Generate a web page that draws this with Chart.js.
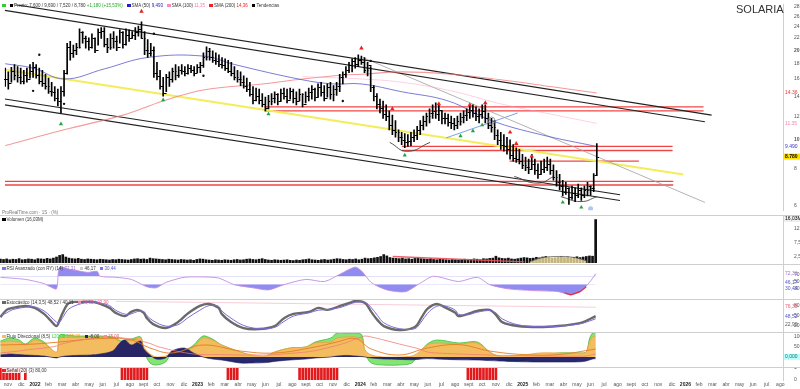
<!DOCTYPE html>
<html>
<head>
<meta charset="utf-8">
<title>SOLARIA</title>
<script src="https://cdn.jsdelivr.net/npm/chart.js@4.4.0/dist/chart.umd.min.js"></script>
<style>
  body { margin: 0; background: #fff; font-family: Arial, "Liberation Sans", sans-serif; }
  #wrap { position: relative; width: 800px; height: 389px; overflow: hidden; }
  canvas { position: absolute; left: 0; }
  .sep { position: absolute; left: 0; width: 800px; height: 0; border-top: 1px solid #cfcfcf; z-index: 1; }
  .txt { position: absolute; left: 2px; font-size: 4.5px; line-height: 5px; color: #333; white-space: nowrap; z-index: 2; }
  .sq { display: inline-block; width: 3.5px; height: 3.5px; margin: 0 1px 0 3px; }
  #title { position: absolute; left: 736px; top: 3px; font-size: 11px; color: #333; z-index: 2; }
</style>
</head>
<body>
<div id="wrap">
  <canvas id="price" width="800" height="215" style="top:0"></canvas>
  <canvas id="volume" width="800" height="48" style="top:216px"></canvas>
  <canvas id="rsi" width="800" height="35" style="top:264px"></canvas>
  <canvas id="stoch" width="800" height="33" style="top:299px"></canvas>
  <canvas id="flow" width="800" height="35" style="top:332px"></canvas>
  <canvas id="signal" width="800" height="22" style="top:367px"></canvas>

  <div class="sep" style="top:215px"></div>
  <div class="sep" style="top:264px"></div>
  <div class="sep" style="top:299px"></div>
  <div class="sep" style="top:332px"></div>
  <div class="sep" style="top:367px"></div>

  <div id="title">SOLARIA</div>
  <div class="txt" style="top:3px"><span class="sq" style="background:#3c3;margin-left:0"></span><span class="sq" style="background:#000"></span>Precio: 7,600 / 9,690 / 7,520 / 8,780 <span style="color:#2a2">+1,180 (+15,53%)</span> <span class="sq" style="background:#22b"></span>SMA (50) <span style="color:#22b">9,493</span> <span class="sq" style="background:#f8b"></span>SMA (100) <span style="color:#f7a">11,35</span> <span class="sq" style="background:#e22"></span>SMA (200) <span style="color:#e22">14,36</span> <span class="sq" style="background:#000"></span>Tendencias</div>
  <div class="txt" style="top:210px;color:#777">ProRealTime.com · 1S · (%)</div>
  <div class="txt" style="top:217px"><span class="sq" style="background:#000;margin-left:0"></span>Volumen (16,03M)</div>
  <div class="txt" style="top:266px"><span class="sq" style="background:#77e;margin-left:0"></span>RSI Avanzado (con RY) (14) <span style="color:#a070d0">72,31</span> <span class="sq" style="background:#ccc"></span>46,17 <span class="sq" style="background:#77e"></span><span style="color:#55c">30,44</span></div>
  <div class="txt" style="top:300px"><span class="sq" style="background:#666;margin-left:0"></span>Estocástico (14,3,5) 48,52 / 40,11 <span class="sq" style="background:#f8a"></span><span style="color:#e57">76,35 / 22,90</span></div>
  <div class="txt" style="top:334px"><span class="sq" style="background:#fb5;margin-left:0"></span>Flujo Direccional (8,5) <span style="color:#4c4">120,00</span> <span style="color:#e90">105,00</span> <span class="sq" style="background:#226"></span>-8,00 <span class="sq" style="background:#f88"></span><span style="color:#e55">15,00</span></div>
  <div class="txt" style="top:368px;background:rgba(255,255,255,0.85)"><span class="sq" style="background:#e22;margin-left:0"></span>Señal (20) (3) 80,00</div>
</div>

<script>
// ---- time axis ----
const monthLabels = ['nov','dic',
  '2022','feb','mar','abr','may','jun','jul','ago','sept','oct','nov','dic',
  '2023','feb','mar','abr','may','jun','jul','ago','sept','oct','nov','dic',
  '2024','feb','mar','abr','may','jun','jul','ago','sept','oct','nov','dic',
  '2025','feb','mar','abr','may','jun','jul','ago','sept','oct','nov','dic',
  '2026','feb','mar','abr','may','jun','jul','ago'];
const firstMonth = -2;         // month of first label (0 = jan 2022)
const firstBarMonth = -2.55;   // month of the first weekly bar
const X_MIN = -2.58, X_MAX = 55.2;

// ---- weekly prices ----
const highs = [17.4,16.9,17.5,17.9,17.6,17.4,17.1,17.4,17.9,18.2,
  17.9,17.4,17.1,16.6,16.1,15.6,15.1,14.8,15.1,17.1,
  21.1,21.4,20.8,21.1,23.6,23.1,22.3,22.0,22.7,22.0,
  23.6,23.8,23.8,21.9,22.7,23.1,22.3,23.4,23.1,23.6,
  23.4,23.1,23.8,24.1,24.9,23.1,21.7,21.1,20.5,18.2,
  17.1,16.2,16.6,16.9,17.4,17.9,17.6,17.9,17.6,17.9,
  17.8,17.6,17.9,18.2,19.6,20.5,20.3,19.9,19.6,19.3,
  18.9,18.7,18.5,18.2,17.6,17.1,16.9,16.4,16.1,15.6,
  15.1,14.9,14.8,14.3,13.9,14.1,14.3,14.5,14.3,14.8,
  14.9,14.8,14.9,14.8,14.5,14.8,14.3,14.5,14.9,15.2,
  14.9,15.4,15.6,15.2,15.4,15.6,15.2,15.6,16.6,16.9,
  17.6,18.2,18.7,18.9,19.3,19.1,18.9,18.2,17.6,15.2,
  14.3,13.7,13.5,13.1,12.5,12.1,11.6,10.8,10.6,10.5,
  10.4,10.6,10.8,11.1,11.6,12.0,12.3,12.7,13.1,13.3,
  13.1,12.5,12.3,12.2,12.0,11.8,12.0,12.3,12.5,12.7,
  13.0,13.1,12.9,12.7,13.1,13.1,12.3,11.8,11.6,10.8,
  10.6,10.4,10.2,10.0,9.63,9.4,9.28,8.94,8.74,8.61,
  8.94,8.61,8.3,8.48,8.61,8.74,8.61,8.24,7.88,7.65,
  7.31,7.2,6.89,6.99,6.89,7.1,6.89,6.99,7.2,7.0,
  7.7,9.7];
const lows = [15.1,14.8,15.6,15.9,15.6,15.4,15.4,15.6,16.1,16.2,
  16.1,15.4,15.1,14.8,14.3,14.0,13.5,13.0,12.3,14.0,
  16.6,18.5,18.9,19.3,20.3,21.1,20.3,20.0,20.3,19.6,
  20.8,21.9,20.5,19.6,20.1,20.3,19.9,21.1,20.3,20.8,
  21.4,21.9,21.7,22.3,21.9,19.3,18.9,19.1,16.2,15.9,
  14.8,14.0,14.5,15.1,15.6,15.9,16.2,16.6,16.4,16.6,
  16.8,16.4,16.8,16.8,17.5,18.5,18.5,18.2,17.9,17.6,
  17.4,17.1,16.8,16.4,15.9,15.6,15.2,14.9,14.5,14.0,
  13.2,13.5,13.2,12.9,12.5,12.7,13.1,13.3,13.1,13.5,
  13.7,13.3,13.7,13.3,13.1,13.5,12.9,13.3,13.5,13.7,
  13.5,13.9,14.0,13.5,13.9,13.7,13.5,14.1,14.5,15.4,
  16.2,16.8,16.9,17.4,17.6,17.9,16.8,16.4,14.5,13.5,
  12.7,12.3,11.8,11.6,10.8,10.4,10.2,9.85,9.63,9.4,
  9.5,9.55,9.85,10.0,10.4,10.8,11.1,11.4,11.8,11.8,
  11.6,11.3,11.3,11.1,10.9,10.8,10.9,11.2,11.4,11.6,
  11.8,11.9,11.6,11.4,11.8,11.4,10.9,10.6,10.0,9.63,
  9.28,9.15,8.94,8.61,8.48,8.4,8.3,8.0,7.88,7.7,
  8.0,7.65,7.42,7.65,7.76,7.88,7.65,7.31,6.99,6.78,
  6.48,6.55,6.07,6.3,6.2,6.39,6.25,6.39,6.48,6.5,
  6.7,7.6];
const closes = [16.0,15.5,17.0,16.5,16.2,15.8,16.5,16.0,17.0,17.5,
  16.5,15.8,15.5,15.2,14.6,14.5,13.8,13.5,14.6,16.8,
  20.5,19.5,20.0,20.5,23.0,22.0,21.5,20.5,22.0,20.0,
  23.0,23.2,21.0,20.5,22.0,21.5,20.5,23.0,21.0,22.5,
  22.0,22.5,23.0,23.5,22.0,20.0,19.5,20.0,16.8,16.4,
  15.2,14.4,16.2,16.0,17.0,16.5,17.2,17.0,16.8,17.4,
  17.2,16.8,17.5,17.8,19.0,19.8,19.0,18.6,18.4,18.0,
  17.8,17.4,17.0,16.8,16.2,16.0,15.6,15.2,14.8,14.3,
  13.6,14.0,13.6,13.2,12.8,13.5,13.8,14.2,13.5,14.4,
  14.0,13.6,14.6,13.8,13.5,14.2,13.2,14.0,14.5,14.8,
  13.9,15.0,14.5,13.8,15.0,14.2,14.8,15.2,16.2,16.6,
  17.2,17.8,18.4,18.0,18.6,18.2,17.2,17.8,15.0,14.0,
  13.2,12.8,12.2,12.0,11.2,10.8,10.6,10.2,10.0,9.8,
  9.9,10.2,10.4,10.8,11.2,11.6,12.0,12.3,12.5,12.2,
  12.6,11.8,11.8,11.5,11.4,11.2,11.6,11.9,12.1,12.4,
  12.6,12.3,12.0,12.2,12.5,11.8,11.2,11.0,10.4,10.0,
  9.6,9.5,9.3,8.9,8.7,8.6,8.5,8.2,8.1,7.95,
  8.3,7.9,7.7,8.0,8.1,8.3,7.9,7.5,7.2,7.0,
  6.7,6.9,6.4,6.6,6.5,6.8,6.5,6.8,7.0,6.9,
  7.6,8.78];
const priceTicks = [6, 8, 10, 12, 14, 16, 18, 20, 22, 24, 26, 28];

// moving averages (week index, value)
const ma50Weeks = [0,9,19,32,46,64,74,96,106,115,128,143,157,173,191];
const ma50 = [18.0,17.4,16.0,17.3,18.9,19.1,17.9,15.9,15.4,15.4,14.5,13.5,11.6,10.4,9.49];
const ma100Weeks = [96,115,128,144,160,176,191];
const ma100 = [16.3,16.0,15.6,14.6,13.2,12.2,11.35];
const ma200Weeks = [0,19,38,51,64,83,96,109,115,128,144,160,176,191];
const ma200 = [9.56,10.8,12.1,13.5,14.7,15.4,16.0,16.5,16.6,16.9,16.6,15.9,15.1,14.36];

// drawn trend lines (month, price)
const channelLines = [
  [[-2.58, 28.8], [49.9, 12.1]],
  [[-2.58, 27.2], [49.4, 11.5]],
  [[-2.58, 13.7], [43.1, 6.54]],
  [[-2.58, 13.1], [43.1, 6.25]]
];
const yellowLine = [[-2.58, 17.2], [47.8, 7.64]];
const greyLine = [[24.0, 18.9], [49.4, 6.16]];
const blueLine = [[30.2, 10.15], [35.5, 12.3]];
const supportLevels = [7.25, 7.05, 12.9, 12.5, 9.5, 9.2, 8.48];
const supportFrom = [-2.58, -2.58, 16.7, 16.7, 26.9, 26.9, 34.9];
const supportTo = [47.05, 47.05, 49.3, 49.3, 47.0, 47.0, 44.5];
const arcs = [
  [[26.0, 9.8], [27.3, 9.15], [29.0, 9.8]],
  [[35.25, 7.53], [37.0, 7.15], [38.2, 7.53]],
  [[38.7, 6.44], [40.2, 6.2], [41.4, 6.44]]
];

// signal markers (week index, price)
const sellWeeks = [44,115,125,140,150,155,163,165,170];
const sellPrices = [27.0,20.3,12.7,13.2,13.1,13.3,10.6,9.7,8.8];
const buyWeeks = [18,51,85,129,147,151,154,180,186];
const buyPrices = [11.3,13.6,12.2,8.87,10.3,10.7,11.2,6.16,5.93];
const dotWeeks = [11,9,19,48,64,109,118];
const dotPrices = [19.3,14.6,13.2,22.7,16.4,13.5,18.4];

// ---- volume (millions) ----
const volumes = [1.4,1.3,1.5,1.2,1.4,1.3,1.6,1.2,1.3,1.5,
  1.4,1.2,1.6,1.5,1.4,1.7,1.5,1.8,2.2,2.8,
  3.1,2.2,1.8,1.6,1.5,1.7,1.4,1.3,1.5,1.4,
  1.3,1.2,1.4,1.3,1.2,1.1,1.3,1.2,1.4,1.3,
  1.2,1.1,1.3,1.5,1.6,1.4,1.5,1.3,1.8,1.6,
  1.5,1.4,1.3,1.2,1.4,1.3,1.2,1.1,1.3,1.2,
  1.1,1.2,1.0,1.3,1.5,1.4,1.2,1.1,1.0,1.2,
  1.1,1.0,1.2,1.1,1.0,1.2,1.3,1.1,1.2,1.4,
  1.5,1.3,1.2,1.4,1.6,1.3,1.1,1.0,1.2,1.1,
  1.0,1.1,1.2,1.0,0.9,1.1,1.0,1.2,1.3,1.5,
  1.2,1.1,1.0,1.2,1.3,1.1,1.2,1.4,1.6,1.5,
  1.3,1.2,1.4,1.3,1.5,1.2,1.4,1.8,1.6,1.7,
  1.9,2.1,2.4,3.1,2.6,2.0,1.8,1.7,1.6,1.8,
  1.5,1.6,1.4,1.7,1.9,1.6,1.5,1.4,1.6,1.3,
  1.2,1.4,1.3,1.2,1.1,1.3,1.2,1.1,1.3,1.4,
  1.2,1.3,1.5,1.4,1.2,1.6,1.5,1.7,1.8,2.5,
  1.9,1.7,1.6,1.8,1.5,1.4,1.6,1.8,2.0,1.9,
  1.7,1.8,2.1,1.9,2.2,2.4,2.0,1.8,1.9,2.1,
  2.3,2.0,2.2,1.9,2.1,2.3,2.0,2.2,2.4,2.6,
  2.5,16.0];
const volTicks = [2.5, 5, 7.5, 10, 12.5, 15];
const volTrend = [[26.4, 2.4], [36.1, 0.4]];
const volZone = [[36.5, 0.5], [37.5, 2.0], [38.6, 2.4], [39.7, 2.1], [40.7, 0.8]];

// ---- RSI ----
const rsiWeeks = [0,8,14,16,18,19,22,24,28,31,32,37,42,47,50,53,59,65,70,75,81,86,91,98,104,109,112,114,116,119,124,130,135,139,147,153,157,163,171,179,183,186,189,191];
const rsiVals = [62,56,44,35,29,91,85,82,76,79,65,62,56,35,32,47,62,63,60,41,32,26,41,56,50,71,85,91,79,47,26,21,47,65,50,62,41,29,24,21,12,21,47,72];
const rsiRedWeeks = [181,183,186,188];
const rsiRedVals = [18,12,21,35];
const rsiLevels = [64, 42];
const rsiTicks = [30, 50, 70];

// ---- stochastic ----
const stochWeeks = [0,2,4,8,11,14,16,18,19,20,22,26,30,32,35,37,40,42,44,46,47,49,53,57,60,64,67,70,71,74,78,83,88,91,94,99,102,105,109,112,114,117,119,121,123,128,133,135,137,140,143,146,147,150,153,157,159,161,166,173,179,184,187,191];
const stochK = [45,67,73,79,73,55,36,18,36,58,88,91,91,85,73,58,48,61,67,58,42,24,12,30,55,79,85,73,55,30,12,9,18,42,55,61,73,67,79,88,94,88,61,36,18,6,15,42,70,85,73,58,48,55,64,67,52,30,18,15,18,24,30,48];
const stochD = [50,58,68,75,76,64,48,30,30,44,70,86,91,88,80,66,54,55,62,62,50,34,18,22,42,66,80,78,64,42,20,10,14,32,48,58,66,68,74,84,90,90,74,50,28,10,10,30,56,78,78,66,54,52,60,65,58,40,22,16,17,22,27,40];
const stochRef = [[37, 93], [191, 75]];
const stochTicks = [20, 50, 80];

// ---- directional flow ----
const flowWeeks = [0,3,6,8,11,14,18,19,21,24,29,32,36,38,39,40,42,45,46,48,50,53,55,59,62,65,68,71,77,81,85,88,93,98,101,106,108,111,114,116,117,119,123,128,132,134,137,140,147,153,157,160,163,168,173,179,186,188,189,190,191];
const flowOrange = [75,80,75,60,85,70,25,95,100,100,100,100,95,80,75,80,85,95,50,15,0,5,20,25,50,95,85,60,25,10,5,25,45,50,70,75,95,100,100,85,35,10,0,0,5,20,60,70,65,70,25,5,5,10,20,20,20,25,75,100,105];
const flowGreen = [80,95,85,65,95,75,20,110,110,105,105,105,100,85,80,85,90,100,30,-30,-40,-25,20,30,60,105,90,60,25,5,0,25,45,50,75,95,120,120,120,110,20,-30,-40,-40,-30,10,65,85,70,75,25,-5,-20,-15,5,20,20,25,90,120,120];
const flowNavy = [10,15,12,10,8,5,-5,0,5,8,10,15,30,65,80,85,60,80,40,10,-10,-5,30,45,20,0,-10,-15,-30,-30,-28,-22,-15,-10,-5,0,5,8,5,2,0,-5,-10,-12,-14,-12,-8,-10,-14,-15,-18,-20,-22,-24,-25,-25,-24,-20,-15,-10,-8];
const flowSlow = [20,25,30,35,40,45,55,62,70,80,92,98,100,98,96,94,90,82,76,68,55,42,34,22,15,12,12,12,10,10,10,12,18,25,32,50,58,72,90,100,105,100,85,65,50,42,25,20,15,12,10,8,8,6,5,4,4,5,8,12,15];
const sigWeeks = [0,11,19,32,42,48,55,65,77,88,101,108,114,119,128,137,147,157,168,179,191];
const sigVals = [60,65,75,92,85,45,20,60,30,20,50,75,92,40,10,45,62,30,12,12,40];
const flowTicks = [0, 50, 100];

// ---- signal bars ----
const redBarWeeks = [0,1,2,3,4,5,6,8,39,40,41,42,43,44,45,46,47,73,74,75,76,
  96,97,98,99,100,101,102,103,104,105,106,107,108,150,151,152,153,154,155,156,157,158,159];

// ---- helpers ----
Chart.defaults.font.family = 'Arial, "Liberation Sans", sans-serif';
Chart.defaults.animation = false;

const wk = i => firstBarMonth + i * 12 / 52.18;
const pts = arr => arr.map(([m, v]) => ({x: m, y: v}));
const wpts = (weeks, vals) => weeks.map((w, k) => ({x: wk(w), y: vals[k]}));
const last = a => a[a.length - 1];

function lineDs(data, color, width, extra) {
  return Object.assign({type: 'line', data, borderColor: color, borderWidth: width,
    pointRadius: 0, fill: false, tension: 0}, extra || {});
}
function markDs(data, color, style, r, extra) {
  return Object.assign({type: 'line', data, showLine: false, pointStyle: style, pointRadius: r,
    backgroundColor: color, borderColor: color, borderWidth: 0}, extra || {});
}

function xAxis() {
  return {type: 'linear', min: X_MIN, max: X_MAX, display: false, offset: false, grid: {display: false, offset: false}};
}
function yAxis(opts, tickValues, fmt) {
  return Object.assign({
    position: 'right', grid: {display: false}, border: {display: true, color: '#cfcfcf'},
    afterFit: s => { s.width = 17; s.paddingTop = 0; s.paddingBottom = 0; },
    afterBuildTicks: s => { s.ticks = tickValues.map(v => ({value: v})); },
    ticks: {font: {size: 5}, color: '#555', padding: 3, callback: fmt || (v => String(v))}
  }, opts);
}

// value labels drawn on the right axis
const valueBoxes = {
  id: 'valueBoxes',
  afterDraw(chart, args, opts) {
    const {ctx, chartArea, scales: {y}} = chart;
    ctx.save();
    ctx.textBaseline = 'middle';
    (opts.items || []).forEach(it => {
      const py = y.getPixelForValue(it.value);
      if (it.bg) {
        ctx.fillStyle = it.bg;
        ctx.fillRect(chartArea.right + 1, py - 3, 16, 6);
      }
      ctx.fillStyle = it.color;
      ctx.font = (it.bold ? 'bold ' : '') + '5px Arial';
      ctx.fillText(it.text, chartArea.right + 2, py);
    });
    ctx.restore();
  }
};

// open / close ticks of the weekly bars
const ohlcTicks = {
  id: 'ohlcTicks',
  afterDatasetsDraw(chart) {
    const {ctx, scales: {x, y}} = chart;
    ctx.save();
    ctx.strokeStyle = '#000';
    ctx.lineWidth = 1;
    ctx.beginPath();
    closes.forEach((c, i) => {
      const px = Math.round(x.getPixelForValue(wk(i))) + 0.5;
      const open = i > 0 ? closes[i - 1] : c;
      const yo = Math.round(y.getPixelForValue(open)) + 0.5;
      const yc = Math.round(y.getPixelForValue(c)) + 0.5;
      ctx.moveTo(px - 1.5, yo); ctx.lineTo(px, yo);
      ctx.moveTo(px, yc); ctx.lineTo(px + 1.5, yc);
    });
    ctx.stroke();
    ctx.restore();
  }
};

// month labels under the last panel
const monthAxis = {
  id: 'monthAxis',
  afterDraw(chart) {
    const {ctx, chartArea, scales: {x}} = chart;
    ctx.save();
    ctx.textAlign = 'center';
    ctx.textBaseline = 'middle';
    monthLabels.forEach((lab, k) => {
      const px = x.getPixelForValue(firstMonth + k);
      if (px > chartArea.right - 2) return;
      const isYear = /^\d{4}$/.test(lab);
      ctx.font = (isYear ? 'bold ' : '') + '5px Arial';
      ctx.fillStyle = isYear ? '#222' : '#555';
      ctx.fillText(lab, px, chartArea.bottom + 5);
    });
    ctx.restore();
  }
};

const baseOpts = {
  responsive: false,
  events: [],
  layout: {padding: 0},
  plugins: {legend: {display: false}, tooltip: {enabled: false}}
};
function opts(extra) {
  return Object.assign({}, baseOpts, extra,
    {plugins: Object.assign({}, baseOpts.plugins, extra.plugins || {})});
}

// ---- main price chart ----
const priceDatasets = [
  markDs(wpts(sellWeeks, sellPrices), '#e8231f', 'triangle', 2.6),
  markDs(wpts(buyWeeks, buyPrices), '#21a63a', 'triangle', 2.4),
  markDs(wpts(dotWeeks, dotPrices), '#111', 'circle', 1.2),
  markDs([{x: wk(157), y: 11.6}], 'rgba(0,0,0,0)', 'circle', 3.5, {borderColor: '#888', borderWidth: 0.8}),
  markDs([{x: wk(189), y: 5.86}], 'rgba(120,160,230,0.6)', 'circle', 2.5),
  {type: 'bar', data: highs.map((h, i) => ({x: wk(i), y: [lows[i], h]})),
   backgroundColor: '#000', barThickness: 1, grouped: false},
  ...arcs.map(a => lineDs(pts(a), '#444', 0.9, {tension: 0.5})),
  lineDs(wpts(ma50Weeks, ma50), 'rgba(80,80,200,0.75)', 1, {tension: 0.4}),
  lineDs(wpts(ma100Weeks, ma100), 'rgba(255,150,200,0.45)', 1, {tension: 0.4}),
  lineDs(wpts(ma200Weeks, ma200), 'rgba(240,120,120,0.75)', 1.1, {tension: 0.4}),
  ...channelLines.map(l => lineDs(pts(l), '#222', 1.1)),
  lineDs(pts(greyLine), 'rgba(160,160,160,0.8)', 1),
  lineDs(pts(blueLine), 'rgba(110,150,230,0.9)', 1),
  lineDs(pts(yellowLine), '#f4ec5a', 2),
  ...supportLevels.map((lv, k) => lineDs([{x: supportFrom[k], y: lv}, {x: supportTo[k], y: lv}], '#f04545', 1.4))
];

const priceY = yAxis({type: 'logarithmic', min: 5.8, max: 28.4}, priceTicks);
priceY.ticks.font = c => ({size: 5, weight: (c.tick && (c.tick.value === 10 || c.tick.value === 20)) ? 'bold' : 'normal'});

new Chart(document.getElementById('price'), {
  type: 'bar',
  data: {datasets: priceDatasets},
  options: opts({
    layout: {padding: {top: 0, bottom: 2}},
    scales: {x: xAxis(), y: priceY},
    plugins: {
      valueBoxes: {items: [
        {value: last(ma200), text: last(ma200).toFixed(2), color: '#e33'},
        {value: last(ma100), text: last(ma100).toFixed(2), color: '#f58ab0'},
        {value: last(ma50), text: last(ma50).toFixed(3), color: '#33c'},
        {value: last(closes), text: last(closes).toFixed(3), color: '#000', bg: '#ffe000', bold: true}
      ]}
    }
  }),
  plugins: [ohlcTicks, valueBoxes]
});

// ---- volume ----
new Chart(document.getElementById('volume'), {
  type: 'bar',
  data: {datasets: [
    lineDs(pts(volTrend), 'rgba(235,80,90,0.9)', 1.4),
    lineDs(pts(volZone), '#555', 0.7, {tension: 0.4, fill: 'origin', backgroundColor: 'rgba(255,235,170,0.75)'}),
    {type: 'bar', data: volumes.map((v, i) => ({x: wk(i), y: v})), backgroundColor: '#111', barThickness: 2}
  ]},
  options: opts({
    layout: {padding: {top: 0, bottom: 1}},
    scales: {x: xAxis(), y: yAxis({min: 0, max: 17.3}, volTicks, v => String(v).replace('.', ',') + 'M')},
    plugins: {valueBoxes: {items: [{value: 16.2, text: '16,03M', color: '#000', bg: '#eee'}]}}
  }),
  plugins: [valueBoxes]
});

// ---- RSI ----
new Chart(document.getElementById('rsi'), {
  type: 'line',
  data: {datasets: [
    lineDs(wpts(rsiRedWeeks, rsiRedVals), '#e53030', 1.2),
    lineDs(wpts(rsiWeeks, rsiVals), '#c58be0', 0.9, {tension: 0.25,
      fill: {target: {value: rsiLevels[0]}, above: 'rgba(105,100,235,0.75)', below: 'rgba(0,0,0,0)'}}),
    lineDs(wpts(rsiWeeks, rsiVals), 'rgba(0,0,0,0)', 0, {tension: 0.25,
      fill: {target: {value: rsiLevels[1]}, above: 'rgba(0,0,0,0)', below: 'rgba(105,100,235,0.75)'}})
  ]},
  options: opts({
    scales: {x: xAxis(), y: yAxis({min: 0, max: 100}, rsiTicks)},
    plugins: {valueBoxes: {items: [
      {value: last(rsiVals), text: '72,31', color: '#a070d0'},
      {value: 46, text: '46,17', color: '#55c'},
      {value: 30, text: '30,44', color: '#55c'}
    ]}}
  }),
  plugins: [valueBoxes]
});

// ---- stochastic ----
new Chart(document.getElementById('stoch'), {
  type: 'line',
  data: {datasets: [
    lineDs(wpts(stochWeeks, stochD), '#7d6ad8', 1, {tension: 0.35}),
    lineDs(wpts(stochWeeks, stochK), '#6a6a6a', 2.4, {tension: 0.35}),
    lineDs(stochRef.map(([w, v]) => ({x: wk(w), y: v})), 'rgba(240,140,160,0.55)', 0.8)
  ]},
  options: opts({
    scales: {x: xAxis(), y: yAxis({min: 0, max: 100}, stochTicks)},
    plugins: {valueBoxes: {items: [
      {value: 76, text: '76,35', color: '#e57'},
      {value: last(stochK), text: '48,52', color: '#55c'},
      {value: 23, text: '22,90', color: '#555'}
    ]}}
  }),
  plugins: [valueBoxes]
});

// ---- directional flow ----
new Chart(document.getElementById('flow'), {
  type: 'line',
  data: {datasets: [
    lineDs(wpts(flowWeeks, flowSlow), 'rgba(240,120,120,0.85)', 0.9, {tension: 0.4}),
    lineDs(wpts(sigWeeks, sigVals), '#e27d22', 0.9, {tension: 0.4}),
    lineDs(wpts(flowWeeks, flowNavy), '#1e1e66', 0.6, {tension: 0.3, fill: 'origin', backgroundColor: 'rgba(28,28,100,0.95)'}),
    lineDs(wpts(flowWeeks, flowOrange), '#e9a040', 0.8, {tension: 0.3, fill: 'origin', backgroundColor: 'rgba(250,188,95,0.95)'}),
    lineDs(wpts(flowWeeks, flowGreen), '#3cbc3c', 0.8, {tension: 0.3, fill: 'origin', backgroundColor: 'rgba(125,228,110,0.95)'})
  ]},
  options: opts({
    scales: {x: xAxis(), y: yAxis({min: -50, max: 125}, flowTicks)},
    plugins: {valueBoxes: {items: [{value: 0, text: '0,000', color: '#077', bg: '#bff'}]}}
  }),
  plugins: [valueBoxes]
});

// ---- signal bars + month labels ----
new Chart(document.getElementById('signal'), {
  type: 'bar',
  data: {datasets: [
    {type: 'bar', data: redBarWeeks.map(w => ({x: wk(w), y: 1})), backgroundColor: '#e3191c', barThickness: 2}
  ]},
  options: opts({
    layout: {padding: {top: 1, bottom: 9}},
    scales: {x: xAxis(), y: yAxis({min: 0, max: 1}, [0, 0.5, 1], v => String(v).replace('.', ','))}
  }),
  plugins: [monthAxis]
});
</script>
</body>
</html>
